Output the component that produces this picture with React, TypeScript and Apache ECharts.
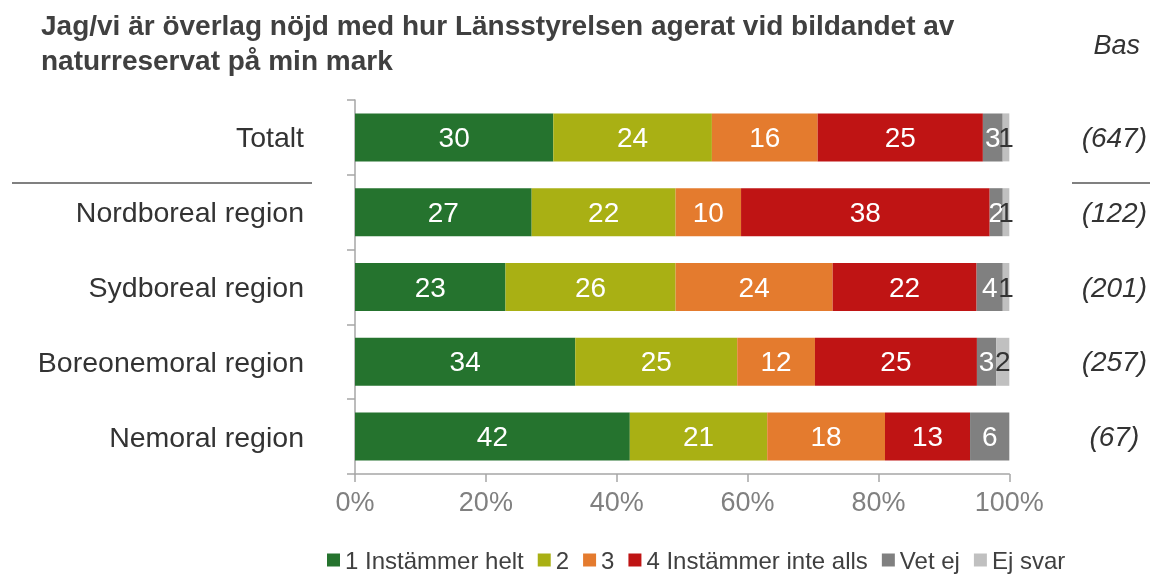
import React, { useEffect, useRef } from "react";
import * as echarts from "echarts";

const categories = ["Totalt", "Nordboreal region", "Sydboreal region", "Boreonemoral region", "Nemoral region"];
const bases = ["(647)", "(122)", "(201)", "(257)", "(67)"];
const seriesNames = ["1 Instämmer helt", "2", "3", "4 Instämmer inte alls", "Vet ej", "Ej svar"];
const s1 = [30, 27, 23, 34, 42];
const s2 = [24, 22, 26, 25, 21];
const s3 = [16, 10, 24, 12, 18];
const s4 = [25, 38, 22, 25, 13];
const vetEj = [3, 2, 4, 3, 6];
const ejSvar = [1, 1, 1, 2, 0];
const xTicks = [0, 20, 40, 60, 80, 100];
const colors = ["#25732E", "#A9B014", "#E47B2E", "#BF1414", "#808080", "#C0C0C0"];
const labelColors = ["#ffffff", "#ffffff", "#ffffff", "#ffffff", "#ffffff", "#333333"];

const FONT = "'Liberation Sans', Arial, sans-serif";

export default function App() {
  const ref = useRef<HTMLDivElement>(null);
  useEffect(() => {
    if (!ref.current) return;
    const chart = echarts.init(ref.current, undefined, { renderer: "svg" });
    const all = [s1, s2, s3, s4, vetEj, ejSvar];
    const sums = categories.map((_, i) => all.reduce((a, s) => a + s[i], 0));
    const series = all.map((arr, k) => ({
      name: seriesNames[k],
      type: "bar",
      stack: "total",
      barWidth: 48,
      yAxisIndex: 0,
      itemStyle: { color: colors[k] },
      data: arr.map((v, i) => ({ value: (v / sums[i]) * 100, raw: v })),
      label: {
        show: true,
        position: "inside",
        color: labelColors[k],
        fontSize: 28,
        fontFamily: FONT,
        formatter: (p: any) => (p.data.raw ? String(p.data.raw) : ""),
      },
    }));
    chart.setOption({
      animation: false,
      textStyle: { fontFamily: FONT },
      title: {
        text: "Jag/vi är överlag nöjd med hur Länsstyrelsen agerat vid bildandet av\nnaturreservat på min mark",
        left: 36,
        top: 3,
        textStyle: { fontSize: 28, fontWeight: "bold", color: "#404040", lineHeight: 35, fontFamily: FONT },
      },
      legend: {
        left: 322,
        top: 543,
        icon: "rect",
        itemWidth: 13,
        itemHeight: 13,
        itemGap: 14,
        textStyle: { fontSize: 24, color: "#404040", fontFamily: FONT },
        data: seriesNames,
      },
      grid: { left: 355, right: 140, top: 100, bottom: 100 },
      xAxis: {
        type: "value",
        min: 0,
        max: 100,
        interval: 20,
        splitLine: { show: false },
        axisLine: { show: true, lineStyle: { color: "#a6a6a6", width: 1.5 } },
        axisTick: { show: true, length: 8, lineStyle: { color: "#a6a6a6", width: 1.5 } },
        axisLabel: {
          color: "#808080",
          fontSize: 27,
          margin: 14,
          fontFamily: FONT,
          formatter: (v: number) => (xTicks.includes(v) ? v + "%" : ""),
        },
      },
      yAxis: [
        {
          type: "category",
          data: categories,
          inverse: true,
          axisLine: { show: true, lineStyle: { color: "#a6a6a6", width: 1.5 } },
          axisTick: { show: true, length: 8, lineStyle: { color: "#a6a6a6", width: 1.5 } },
          axisLabel: { color: "#333333", fontSize: 28.5, margin: 51, fontFamily: FONT },
        },
        {
          type: "category",
          data: bases,
          inverse: true,
          position: "right",
          axisLine: { show: false },
          axisTick: { show: false },
          axisLabel: { color: "#333333", fontSize: 28, fontStyle: "italic", align: "center", margin: 105, fontFamily: FONT },
        },
      ],
      graphic: [
        { type: "line", shape: { x1: 12, y1: 183, x2: 312, y2: 183 }, style: { stroke: "#808080", lineWidth: 2 } },
        { type: "line", shape: { x1: 1072, y1: 183, x2: 1150, y2: 183 }, style: { stroke: "#808080", lineWidth: 2 } },
        {
          type: "text",
          x: 1140,
          y: 45,
          style: { text: "Bas", fontSize: 27, fontStyle: "italic", fill: "#333333", align: "right", verticalAlign: "middle", fontFamily: FONT },
        },
      ],
      series,
    });
    return () => chart.dispose();
  }, []);
  return <div ref={ref} style={{ position: "fixed", left: 0, top: 0, width: 1150, height: 574 }} />;
}
